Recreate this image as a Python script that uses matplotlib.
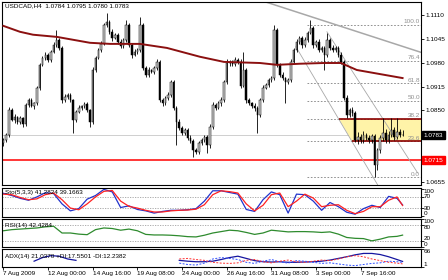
import matplotlib
matplotlib.use("Agg")
import matplotlib.pyplot as plt
import matplotlib.transforms as mtransforms
import numpy as np

plt.rcParams['font.family'] = ['Liberation Sans', 'DejaVu Sans']
FS = 4.6

# ---- price data (USDCAD H4) ----
first_open = 1.0760
closes = [1.0770, 1.0783, 1.0851, 1.0824, 1.0832, 1.0819, 1.0829, 1.0813, 1.0865, 1.0878, 1.0862, 1.0870,
          1.0911, 1.0974, 1.0993, 1.1001, 1.0987, 1.1009, 1.1028, 1.1042, 1.1020, 1.0878, 1.0887, 1.0892,
          1.0878, 1.0824, 1.0846, 1.0857, 1.0862, 1.0868, 1.0851, 1.0819, 1.0960, 1.0993, 1.1015, 1.1031,
          1.1083, 1.1091, 1.1064, 1.1047, 1.1056, 1.1036, 1.1026, 1.1042, 1.1083, 1.1028, 1.1001, 1.1009,
          1.1015, 1.1083, 1.0966, 1.0947, 1.0960, 1.0955, 1.0966, 1.0982, 1.0878, 1.0870, 1.0884, 1.0892,
          1.0927, 1.0857, 1.0819, 1.0802, 1.0789, 1.0797, 1.0775, 1.0767, 1.0742, 1.0737, 1.0761, 1.0770,
          1.0778, 1.0756, 1.0805, 1.0865, 1.0857, 1.0870, 1.0878, 1.0927, 1.0979, 1.0982, 1.0977, 1.0987,
          1.0982, 1.0917, 1.0960, 1.0878, 1.0870, 1.0862, 1.0857, 1.0838, 1.0878, 1.0911, 1.0919, 1.0933,
          1.0938, 1.1069, 1.0974, 1.0947, 1.0938, 1.0927, 1.0933, 1.0982, 1.1015, 1.1036, 1.1047, 1.1028,
          1.1042, 1.1061, 1.1075, 1.1028, 1.1036, 1.1015, 1.1020, 1.1001, 1.1042, 1.1020, 1.1015, 1.1020,
          1.1001, 1.0982, 1.0884, 1.0838, 1.0851, 1.0843, 1.0770, 1.0778, 1.0770, 1.0783, 1.0775, 1.0770,
          1.0780, 1.0701, 1.0742, 1.0775, 1.0789, 1.0770, 1.0783, 1.0797, 1.0778, 1.0791, 1.0784, 1.0783]
upper_pips = [4, 6, 8, 5, 7, 3, 6, 4, 6, 5, 7, 4,
              5, 6, 4, 8, 5, 6, 7, 27, 4, 6, 8, 5,
              6, 4, 5, 7, 4, 6, 5, 3, 8, 6, 5, 7,
              6, 24, 5, 7, 6, 4, 8, 5, 13, 6, 5, 7,
              5, 22, 6, 5, 7, 4, 6, 8, 5, 6, 4, 7,
              6, 5, 4, 7, 5, 6, 4, 8, 5, 6, 7, 5,
              6, 4, 8, 7, 5, 6, 9, 5, 10, 6, 5, 7,
              6, 8, 49, 5, 6, 4, 7, 5, 6, 8, 5, 6,
              5, 14, 6, 5, 7, 4, 6, 8, 5, 9, 6, 5,
              7, 6, 21, 5, 6, 8, 4, 6, 19, 5, 7, 6,
              5, 8, 6, 9, 5, 7, 6, 12, 8, 10, 6, 9,
              7, 5, 6, 8, 40, 10, 12, 32, 9, 38, 8, 12]
lower_pips = [7, 5, 6, 4, 7, 5, 6, 8, 5, 6, 4, 7,
              5, 6, 4, 7, 5, 6, 4, 5, 6, 7, 5, 6,
              5, 35, 6, 4, 7, 5, 6, 14, 5, 6, 4, 5,
              4, 6, 5, 7, 4, 6, 5, 7, 6, 5, 8, 4,
              6, 5, 7, 5, 6, 4, 7, 5, 6, 8, 5, 6,
              5, 7, 63, 5, 6, 7, 5, 6, 19, 5, 6, 4,
              6, 22, 8, 5, 6, 4, 7, 5, 6, 7, 5, 6,
              5, 6, 4, 7, 5, 6, 8, 49, 5, 6, 4, 5,
              6, 5, 7, 6, 5, 57, 6, 5, 4, 6, 5, 7,
              5, 6, 4, 7, 5, 6, 5, 41, 6, 5, 7, 5,
              6, 5, 7, 8, 6, 9, 7, 12, 8, 10, 6, 8,
              9, 32, 12, 8, 7, 10, 8, 6, 9, 5, 6, 3]

# moving average read at points
ma_bars = [0, 5.9, 10.6, 19.2, 31, 38.2, 48.9, 58.6, 70.4, 79, 91.9, 98, 106.2, 114.8, 120.9, 126.6, 134.8, 143]
ma_vals = [1.1080, 1.1064, 1.1056, 1.1050, 1.1034, 1.1031, 1.1031, 1.1020, 1.0996, 1.0982,
           1.0979, 1.0974, 1.0977, 1.0979, 1.0979, 1.0960, 1.0949, 1.0938]

# fibonacci
fib_low, fib_high = 1.0669, 1.1083
fib_levels = [0.0, 23.6, 38.2, 50.0, 61.8, 76.4, 100.0]
fib_start = 108.7
zone_top_left, zone_bottom_left = 120.2, 124.8

# trend lines (bar, price)
trend_a = ([94.0, 150.0], [1.1145, 1.1007])
trend_b = ([104.8, 134.1], [1.1023, 1.0647])
trend_c = ([115.9, 148.4], [1.1064, 1.0680])

bid_price = 1.0783
support = 1.0715
price_ticks = [1.1110, 1.1045, 1.0980, 1.0915, 1.0850, 1.0785, 1.0720, 1.0655]
price_tick_labels = ['1.1110', '1.1045', '1.0980', '1.0915', '1.0850', '', '', '1.0655']

# indicators, read every 3 bars
ind_bars = list(range(0, 142, 3)) + [143]
sto_k = [83, 75, 65, 58, 70, 85, 82, 45, 20, 28, 62, 75, 97, 88, 32, 38, 25, 20, 12, 18, 22, 22, 24, 28,
         55, 92, 92, 86, 80, 25, 18, 60, 88, 78, 12, 80, 78, 55, 22, 50, 35, 15, 8, 28, 40, 32, 72, 65, 41.28]
sto_d = [80, 78, 68, 60, 63, 78, 84, 60, 30, 24, 45, 70, 90, 93, 55, 36, 30, 22, 16, 16, 20, 22, 23, 26,
         42, 78, 92, 89, 84, 45, 20, 40, 78, 84, 35, 55, 80, 66, 35, 40, 42, 22, 10, 18, 35, 35, 58, 70, 39.17]
rsi = [58, 62, 64, 66, 68, 72, 74, 50, 50, 46, 44, 62, 68, 66, 60, 64, 58, 45, 43, 43, 42, 40, 37, 36,
       42, 50, 55, 60, 58, 52, 45, 50, 60, 57, 54, 55, 55, 54, 52, 54, 46, 34, 31, 30, 22, 28, 36, 38, 42.43]

adx_early_bars = [11, 14, 17, 20, 23, 26]
adx_early = [22, 35, 42, 40, 30, 25]
adx_bars = list(range(63, 142, 3)) + [143]
adx = [25, 22, 20, 20, 22, 28, 35, 40, 32, 24, 20, 19, 20, 18, 18, 19, 20, 22, 26, 32, 38, 45, 50, 50,
       46, 38, 28, 21.04]
plus_di = [15, 10, 8, 15, 30, 35, 32, 28, 18, 14, 22, 28, 20, 15, 24, 22, 18, 14, 16, 12, 8, 6, 10, 14,
           16, 22, 20, 17.55]
minus_di = [30, 32, 28, 25, 18, 15, 14, 16, 25, 28, 20, 16, 22, 26, 20, 18, 22, 26, 24, 30, 38, 42, 38, 30,
            24, 18, 15, 12.24]

date_bars = [0, 16, 32, 48, 64, 80, 96, 112, 128]
date_labels = ['7 Aug 2009', '12 Aug 00:00', '14 Aug 16:00', '19 Aug 08:00', '24 Aug 00:00',
               '26 Aug 16:00', '31 Aug 08:00', '3 Sep 00:00', '7 Sep 16:00']

# ---- figure ----
W, H = 448, 280
fig = plt.figure(figsize=(W / 100, H / 100), dpi=100)


def box(top, bottom):
    return [2 / W, 1 - bottom / H, 419 / W, (bottom - top) / H]


ax = fig.add_axes(box(2, 185))
ax_sto = fig.add_axes(box(188, 217), sharex=ax)
ax_rsi = fig.add_axes(box(219, 247), sharex=ax)
ax_adx = fig.add_axes(box(249, 267), sharex=ax)

closes = np.array(closes)
opens = np.concatenate([[first_open], closes[:-1]])
highs = np.maximum(opens, closes) + np.array(upper_pips) * 0.0001
lows = np.minimum(opens, closes) - np.array(lower_pips) * 0.0001
bars = np.arange(len(closes))

# horizontal guide lines
ax.axhline(bid_price, color='#C8C8C8', lw=0.6, zorder=1)
ax.axhline(support, color='#FF0000', lw=1.1, zorder=2)

# fib zone
span = fib_high - fib_low
fib_prices = [fib_low + span * lv / 100 for lv in fib_levels]
p236, p382 = fib_prices[1], fib_prices[2]
ax.fill([zone_top_left, 149.6, 149.6, zone_bottom_left], [p382, p382, p236, p236],
        color='#FFF3A8', lw=0, zorder=1)
ax.hlines(fib_prices, fib_start, 149.6, colors='#808080', linestyles=(0, (2, 2)), lw=0.6, zorder=2)
for lv, p in zip(fib_levels, fib_prices):
    ax.text(149.2, p + 0.0001, f'{lv:.1f}', color='#909090', fontsize=FS, ha='right', va='bottom', zorder=5)
ax.hlines([p382], zone_top_left, 149.6, colors='#8B0000', lw=1.2, zorder=3)
ax.hlines([p236], zone_bottom_left, 149.6, colors='#8B0000', lw=1.2, zorder=3)

# trend lines
ax.plot(*trend_a, color='#A8A8A8', lw=1.1, zorder=2)
ax.plot(*trend_b, color='#A8A8A8', lw=0.6, zorder=2)
ax.plot(*trend_c, color='#A8A8A8', lw=0.6, zorder=2)

# candles
ax.vlines(bars, lows, highs, color='black', lw=0.6, zorder=4)
bull = closes >= opens
body_bottom = np.minimum(opens, closes)
body_h = np.maximum(np.abs(closes - opens), 0.00008)
ax.bar(bars[bull], body_h[bull], bottom=body_bottom[bull], width=0.55, color='#CFCFCF',
       edgecolor='black', lw=0.35, zorder=5)
ax.bar(bars[~bull], body_h[~bull], bottom=body_bottom[~bull], width=0.55, color='black',
       edgecolor='black', lw=0.35, zorder=5)

# moving average
ax.plot(ma_bars, ma_vals, color='#8B1010', lw=1.4, zorder=6)

ax.set_xlim(-0.5, 149.6)
ax.set_ylim(1.0647, 1.1145)

for a in (ax, ax_sto, ax_rsi, ax_adx):
    for s in a.spines.values():
        s.set_color('black')
        s.set_linewidth(0.8)
    a.yaxis.tick_right()
    a.tick_params(axis='y', direction='out', length=2, width=0.6, labelsize=FS, pad=1)
    a.tick_params(axis='x', bottom=False, labelbottom=False)

ax.set_yticks(price_ticks)
ax.set_yticklabels(price_tick_labels)

tr = mtransforms.blended_transform_factory(ax.transAxes, ax.transData)
ax.text(1.006, bid_price, '1.0783', transform=tr, fontsize=FS, color='white', ha='left', va='center',
        bbox=dict(boxstyle='square,pad=0.25', fc='black', ec='black'))
ax.text(1.006, support, '1.0715', transform=tr, fontsize=FS, color='white', ha='left', va='center',
        bbox=dict(boxstyle='square,pad=0.25', fc='#FF0000', ec='#FF0000'))
ax.text(0.007, 0.978, 'USDCAD,H4  1.0784 1.0795 1.0780 1.0783', transform=ax.transAxes,
        fontsize=FS, va='center', ha='left')

# stochastic
ax_sto.axhline(70, color='#A0A0A0', lw=0.6, ls=(0, (1.5, 1.5)))
ax_sto.axhline(30, color='#A0A0A0', lw=0.6, ls=(0, (1.5, 1.5)))
ax_sto.plot(ind_bars, sto_k, color='#2233CC', lw=0.9)
ax_sto.plot(ind_bars, sto_d, color='#FF2222', lw=0.9)
ax_sto.set_ylim(-2, 102)
ax_sto.text(0.007, 0.83, 'Sto(5,3,3) 41.2824 39.1663', transform=ax_sto.transAxes, fontsize=FS, va='center')


def level_labels(a, vals, labels, pos, vas):
    t = mtransforms.blended_transform_factory(a.transAxes, a.transData)
    a.set_yticks(vals)
    a.set_yticklabels([''] * len(vals))
    for lab, p, va in zip(labels, pos, vas):
        a.text(1.006, p, lab, transform=t, fontsize=FS, ha='left', va=va)


level_labels(ax_sto, [100, 70, 30, 0], ['100', '70', '30', '0'], [100, 70, 30, 0],
             ['top', 'center', 'center', 'bottom'])

# RSI
ax_rsi.axhline(80, color='#A0A0A0', lw=0.6, ls=(0, (1.5, 1.5)))
ax_rsi.axhline(20, color='#A0A0A0', lw=0.6, ls=(0, (1.5, 1.5)))
ax_rsi.plot(ind_bars, rsi, color='#2E8B2E', lw=0.9)
ax_rsi.set_ylim(0, 100)
ax_rsi.text(0.007, 0.75, 'RSI(14) 42.4284', transform=ax_rsi.transAxes, fontsize=FS, va='center')
level_labels(ax_rsi, [100, 80, 20, 0], ['100', '80', '20', '0'], [101, 77, 23, -1],
             ['top', 'top', 'bottom', 'bottom'])

# ADX
ax_adx.plot(adx_early_bars, adx_early, color='#1515A0', lw=0.9)
ax_adx.plot(adx_bars, adx, color='#1515A0', lw=0.9)
ax_adx.plot(adx_bars, plus_di, color='#3050FF', lw=0.7, ls=(0, (2, 1.5)))
ax_adx.plot(adx_bars, minus_di, color='#FF3030', lw=0.7, ls=(0, (2, 1.5)))
ax_adx.set_ylim(1, 66)
ax_adx.text(0.007, 0.61, 'ADX(14) 21.0370 +DI:17.5501 -DI:12.2382', transform=ax_adx.transAxes,
            fontsize=FS, va='center')
level_labels(ax_adx, [66, 1], ['66', '1'], [66, 1], ['top', 'bottom'])

ax_adx.tick_params(axis='x', bottom=True, labelbottom=True, direction='out', length=2, width=0.6,
                   labelsize=FS, pad=1)
ax_adx.set_xticks(date_bars)
ax_adx.set_xticklabels(date_labels)
for lbl in ax_adx.get_xticklabels():
    lbl.set_ha('left')

fig.savefig('out.png', dpi=100)
